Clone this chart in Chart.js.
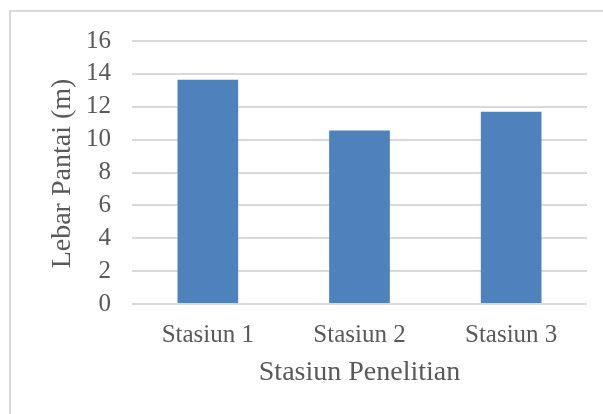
<!DOCTYPE html>
<html>
<head>
<meta charset="utf-8">
<script src="https://cdn.jsdelivr.net/npm/chart.js@4.4.1/dist/chart.umd.min.js"></script>
<style>
  html, body { margin: 0; padding: 0; background: #ffffff; }
  #wrap { position: relative; width: 603px; height: 414px; overflow: hidden; }
  #frame {
    position: absolute; left: 9px; top: 10px; width: 700px; height: 500px;
    border-left: 2px solid #d9d9d9; border-top: 2px solid #d9d9d9;
    box-sizing: border-box; pointer-events: none;
  }
  canvas { position: absolute; left: 0; top: 0; }
</style>
</head>
<body>
<div id="wrap">
  <canvas id="chart" width="603" height="414"></canvas>
  <div id="frame"></div>
</div>
<script>
// Beach width per research station
const stations = ['Stasiun 1', 'Stasiun 2', 'Stasiun 3'];
const beachWidth = [13.65, 10.55, 11.7];
const yTicks = [0, 2, 4, 6, 8, 10, 12, 14, 16];
const yAxisTitle = 'Lebar Pantai (m)';
const xAxisTitle = 'Stasiun Penelitian';

const textColor = '#595959';
const fontFamily = '"Liberation Serif", "DejaVu Serif", serif';

// Vertical axis title, placed at a fixed column left of the tick labels
const yTitlePlugin = {
  id: 'yTitle',
  afterDraw(chart) {
    const { ctx, chartArea } = chart;
    ctx.save();
    ctx.translate(62.5, (chartArea.top + chartArea.bottom) / 2 + 1);
    ctx.rotate(-Math.PI / 2);
    ctx.font = '28px ' + fontFamily;
    ctx.fillStyle = textColor;
    ctx.textAlign = 'center';
    ctx.textBaseline = 'middle';
    ctx.fillText(yAxisTitle, 0, 0);
    ctx.restore();
  }
};

new Chart(document.getElementById('chart'), {
  type: 'bar',
  data: {
    labels: stations,
    datasets: [{
      label: yAxisTitle,
      data: beachWidth,
      backgroundColor: '#4f81bd',
      borderWidth: 0,
      categoryPercentage: 1,
      barPercentage: 0.4
    }]
  },
  plugins: [yTitlePlugin],
  options: {
    responsive: false,
    animation: false,
    devicePixelRatio: 1,
    layout: { padding: { top: 41, right: 16, bottom: 0, left: 0 } },
    plugins: {
      legend: { display: false },
      tooltip: { enabled: false }
    },
    scales: {
      x: {
        grid: { display: false, drawTicks: false },
        border: { display: false },
        ticks: {
          color: textColor,
          padding: 16,
          font: { family: fontFamily, size: 25 }
        },
        title: {
          display: true,
          text: xAxisTitle,
          color: textColor,
          font: { family: fontFamily, size: 28 },
          padding: { top: 0, bottom: 25 }
        },
        afterFit: (scale) => { scale.height = 110; }
      },
      y: {
        min: yTicks[0],
        max: yTicks[yTicks.length - 1],
        afterBuildTicks: (scale) => { scale.ticks = yTicks.map(v => ({ value: v })); },
        grid: { color: '#d9d9d9', lineWidth: 2, drawTicks: false },
        border: { display: false },
        ticks: {
          color: textColor,
          padding: 21,
          autoSkip: false,
          font: { family: fontFamily, size: 25 }
        },
        afterFit: (scale) => { scale.width = 132; }
      }
    }
  }
});
</script>
</body>
</html>
